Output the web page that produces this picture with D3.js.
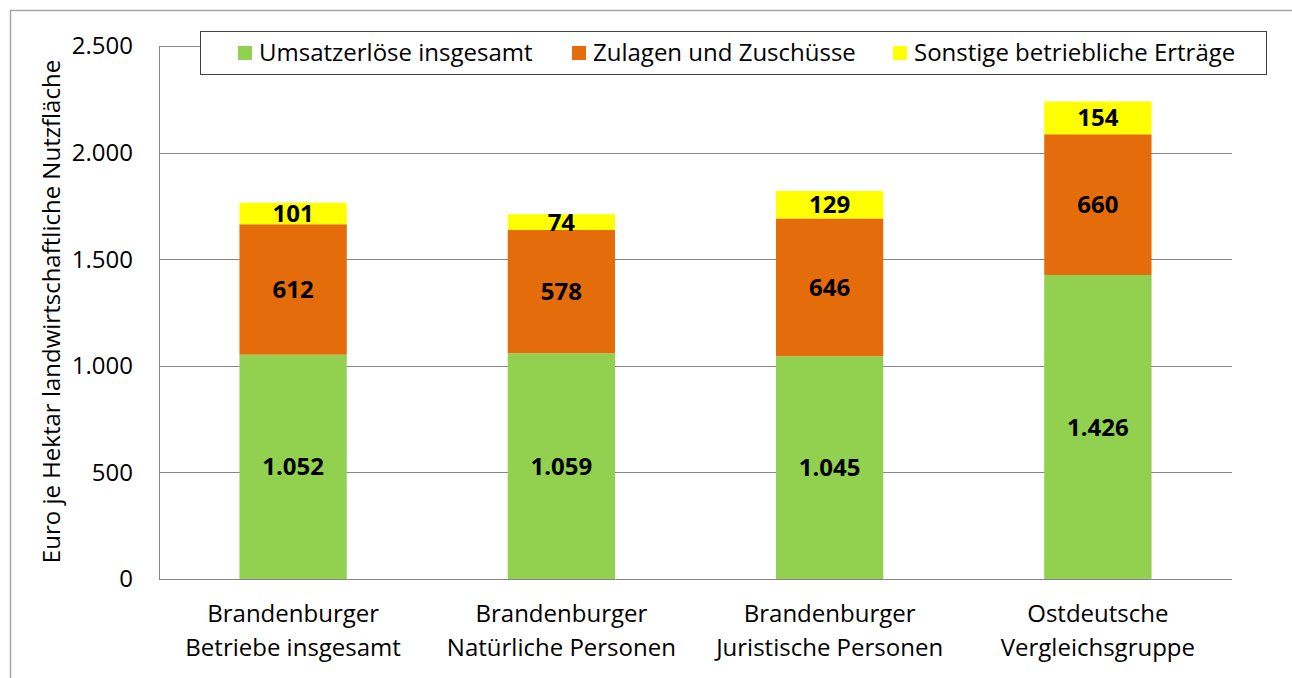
<!DOCTYPE html>
<html>
<head>
<meta charset="utf-8">
<script src="https://cdn.jsdelivr.net/npm/d3@7"></script>
<style>
  body { margin: 0; background: #fff; }
  svg { display: block; font-family: "Open Sans", sans-serif; }
</style>
</head>
<body>
<script>
const categories = [
  ["Brandenburger", "Betriebe insgesamt"],
  ["Brandenburger", "Natürliche Personen"],
  ["Brandenburger", "Juristische Personen"],
  ["Ostdeutsche", "Vergleichsgruppe"]
];
const seriesNames = ["Umsatzerlöse insgesamt", "Zulagen und Zuschüsse", "Sonstige betriebliche Erträge"];
const umsatz = [1052, 1059, 1045, 1426];
const zulagen = [612, 578, 646, 660];
const sonstige = [101, 74, 129, 154];
const yTicks = [0, 500, 1000, 1500, 2000, 2500];
const colors = ["#92d050", "#e46c0a", "#ffff00"];

const W = 1292, H = 678;
const margin = { top: 46, right: 60, bottom: 99, left: 159 };
const iw = W - margin.left - margin.right;
const ih = H - margin.top - margin.bottom;
const fmt = d3.formatLocale({ decimal: ",", thousands: ".", grouping: [3], currency: ["", "€"] }).format(",d");

const svg = d3.select("body").append("svg").attr("width", W).attr("height", H);

// outer frame
svg.append("rect").attr("x", 10.5).attr("y", 10.5).attr("width", W).attr("height", H)
  .attr("fill", "none").attr("stroke", "#a6a6a6").attr("stroke-width", 1.5);

const g = svg.append("g").attr("transform", `translate(${margin.left},${margin.top})`);

const x = d3.scaleBand().domain(d3.range(categories.length)).range([0, iw]).paddingInner(0.6).paddingOuter(0.3);
const y = d3.scaleLinear().domain([0, 2500]).range([ih, 0]);

// gridlines
g.append("g").selectAll("line").data(yTicks.slice(1)).join("line")
  .attr("x1", 0).attr("x2", iw)
  .attr("y1", d => Math.round(y(d)) + 0.5).attr("y2", d => Math.round(y(d)) + 0.5)
  .attr("stroke", "#868686").attr("stroke-width", 1);

// y tick labels
g.append("g").selectAll("text").data(yTicks).join("text")
  .attr("x", -26).attr("y", d => y(d)).attr("dy", "0.35em")
  .attr("text-anchor", "end").attr("font-size", 24).attr("fill", "#000")
  .text(d => fmt(d));

// stack
const rows = categories.map((c, i) => ({ i, a: umsatz[i], b: zulagen[i], c: sonstige[i] }));
const stack = d3.stack().keys(["a", "b", "c"])(rows);

stack.forEach((layer, k) => {
  const lg = g.append("g");
  lg.selectAll("rect").data(layer).join("rect")
    .attr("x", d => x(d.data.i)).attr("width", x.bandwidth())
    .attr("y", d => y(d[1])).attr("height", d => y(d[0]) - y(d[1]))
    .attr("fill", colors[k]);
  lg.selectAll("text").data(layer).join("text")
    .attr("x", d => x(d.data.i) + x.bandwidth() / 2)
    .attr("y", d => (y(d[0]) + y(d[1])) / 2).attr("dy", "0.36em")
    .attr("text-anchor", "middle").attr("font-size", 24).attr("font-weight", "bold")
    .text(d => fmt(d[1] - d[0]));
});

// axes lines
g.append("line").attr("x1", 0.5).attr("x2", 0.5).attr("y1", 0).attr("y2", ih)
  .attr("stroke", "#868686");
g.append("line").attr("x1", 0).attr("x2", iw).attr("y1", ih + 0.5).attr("y2", ih + 0.5)
  .attr("stroke", "#868686");

// category labels
g.append("g").selectAll("text").data(categories).join("text")
  .attr("x", (d, i) => x(i) + x.bandwidth() / 2).attr("y", ih + 43)
  .attr("text-anchor", "middle").attr("font-size", 24).attr("fill", "#000")
  .selectAll("tspan").data(d => d).join("tspan")
  .attr("x", function () { return d3.select(this.parentNode).attr("x"); })
  .attr("dy", (d, j) => j ? 34 : 0)
  .text(d => d);

// y axis title
svg.append("text")
  .attr("transform", `translate(60,${margin.top + ih / 2 - 1}) rotate(-90)`)
  .attr("text-anchor", "middle").attr("font-size", 24).attr("fill", "#000")
  .text("Euro je Hektar landwirtschaftliche Nutzfläche");

// legend
const legend = svg.append("g");
legend.append("rect").attr("x", 200.5).attr("y", 31.5).attr("width", 1066).attr("height", 43)
  .attr("fill", "#fff").attr("stroke", "#404040").attr("stroke-width", 1);
const legendX = [238, 572, 893];
seriesNames.forEach((name, k) => {
  legend.append("rect").attr("x", legendX[k]).attr("y", 46).attr("width", 14).attr("height", 14)
    .attr("fill", colors[k]);
  legend.append("text").attr("x", legendX[k] + 21).attr("y", 53).attr("dy", "0.35em")
    .attr("font-size", 24).attr("fill", "#000").text(name);
});
</script>
</body>
</html>
